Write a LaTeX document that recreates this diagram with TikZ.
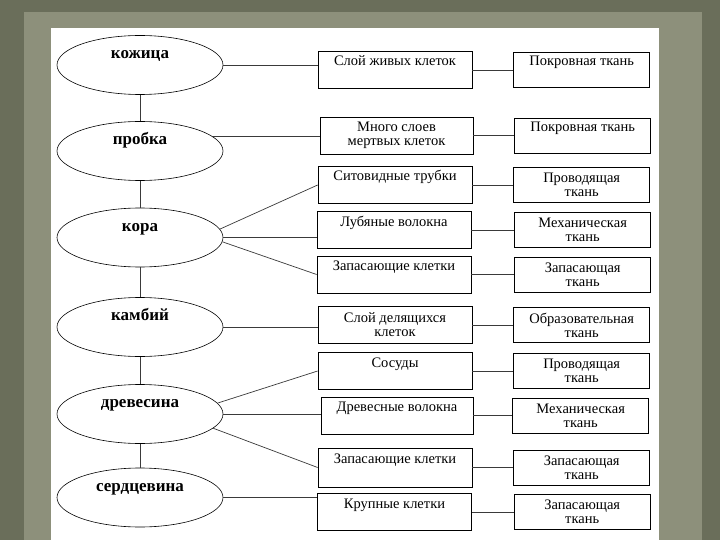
\documentclass[tikz,border=0pt]{standalone}
\usepackage{fontspec}
\setmainfont{Liberation Serif}
\usetikzlibrary{positioning, shapes.geometric}
\definecolor{slideDark}{HTML}{6A6E5A}
\definecolor{slideBand}{HTML}{8D907B}
\definecolor{wire}{HTML}{3A3A3A}

\begin{document}
\begin{tikzpicture}[
  x=1pt, y=-1pt,
  font=\fontsize{14.5}{14}\selectfont,         % Times-like serif, as on the slide
  part/.style={ellipse, draw=black, line width=0.6pt, inner sep=0pt,
               minimum width=166pt, minimum height=59pt,
               font=\fontsize{17}{18}\selectfont\bfseries,
               text height=1pt, text depth=14pt},
  cell/.style={rectangle, draw=black, line width=0.7pt, inner sep=0pt,
               minimum width=154pt, minimum height=37pt, align=center},
  tissue/.style={cell, minimum width=136pt, minimum height=35pt},
  oneline/.style={text height=9pt, text depth=17pt},
  link/.style={draw=wire, line width=0.7pt}
]

  % --- slide: textured frame + white sheet ---
  \fill[slideDark] (0,0) rectangle (720,540);
  \fill[slideBand] (24,12) rectangle (702,540);
  \fill[white] (51,28) rectangle (659,540);

  % --- stem parts (left column) ---
  \node[part] (kozh)   at (140, 65)    {кожица};
  \node[part] (probka) at (140, 151)   {пробка};
  \node[part] (kora)   at (140, 237.5) {кора};
  \node[part] (kambij) at (140, 327)   {камбий};
  \node[part] (drev)   at (140, 414)   {древесина};
  \node[part] (serd)   at (140, 497.5) {сердцевина};

  % --- cells (middle column) ---
  \node[cell, oneline] (zhivye) at (395, 70) {Слой живых клеток};
  \node[cell, minimum width=153pt] (mertvye) at (396.5, 135.5) {Много слоев\\ мертвых клеток};
  \node[cell, oneline] (sito)   at (395, 185)   {Ситовидные трубки};
  \node[cell, oneline] (lub)    at (394, 230)   {Лубяные волокна};
  \node[cell, oneline] (zapasK) at (394, 274.5) {Запасающие клетки};
  \node[cell] (delen)           at (395, 325)   {Слой делящихся\\ клеток};
  \node[cell, oneline] (sosudy) at (395, 371)   {Сосуды};
  \node[cell, oneline, minimum width=152pt] (drevVol) at (397, 415.5) {Древесные волокна};
  \node[cell, oneline, minimum height=39pt] (zapasD)  at (395, 467.5) {Запасающие клетки};
  \node[cell, oneline] (krupn)  at (394.5, 512) {Крупные клетки};

  % --- tissues (right column) ---
  \node[tissue, oneline, right=41pt of zhivye] (pokr1) {Покровная ткань};
  \node[tissue, oneline, right=41pt of mertvye] (pokr2) {Покровная ткань};
  \node[tissue, right=41pt of sito]    (prov1) {Проводящая\\ ткань};
  \node[tissue, right=43pt of lub]     (meh1)  {Механическая\\ ткань};
  \node[tissue, right=43pt of zapasK]  (zap1)  {Запасающая\\ ткань};
  \node[tissue, right=41pt of delen]   (obraz) {Образовательная\\ ткань};
  \node[tissue, right=41pt of sosudy]  (prov2) {Проводящая\\ ткань};
  \node[tissue, right=39pt of drevVol] (meh2)  {Механическая\\ ткань};
  \node[tissue, right=41pt of zapasD]  (zap2)  {Запасающая\\ ткань};
  \node[tissue, right=42pt of krupn]   (zap3)  {Запасающая\\ ткань};

  % --- spine ---
  \draw[link] (kozh) -- (probka);
  \draw[link] (probka) -- (kora);
  \draw[link] (kora) -- (kambij);
  \draw[link] (kambij) -- (drev);
  \draw[link] (drev) -- (serd);

  % --- parts -> cells ---
  \draw[link] (kozh.east) -- (kozh.east -| zhivye.west);
  \draw[link] (probka.11) -- (probka.11 -| mertvye.west);
  \draw[link] (kora.6) -- (sito.west);
  \draw[link] (kora.east) -- (kora.east -| lub.west);
  \draw[link] (kora.-3) -- (zapasK.west);
  \draw[link] (kambij.east) -- (kambij.east -| delen.west);
  \draw[link] (drev.8) -- (sosudy.west);
  \draw[link] (drev.east) -- (drev.east -| drevVol.west);
  \draw[link] (drev.-11) -- (zapasD.west);
  \draw[link] (serd.east) -- (serd.east -| krupn.west);

  % --- cells -> tissues ---
  \draw[link] (zhivye) -- (pokr1);
  \draw[link] (mertvye) -- (pokr2);
  \draw[link] (sito) -- (prov1);
  \draw[link] (lub) -- (meh1);
  \draw[link] (zapasK) -- (zap1);
  \draw[link] (delen) -- (obraz);
  \draw[link] (sosudy) -- (prov2);
  \draw[link] (drevVol) -- (meh2);
  \draw[link] (zapasD) -- (zap2);
  \draw[link] (krupn) -- (zap3);

\end{tikzpicture}
\end{document}
